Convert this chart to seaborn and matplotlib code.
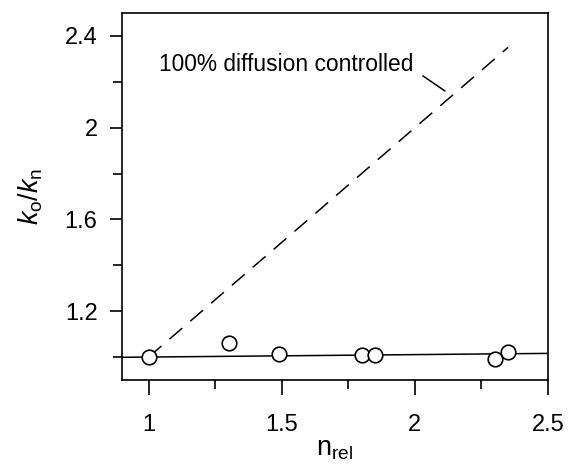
import matplotlib
matplotlib.use("Agg")
import matplotlib.pyplot as plt
import seaborn as sns
import pandas as pd

# data
n_rel = [1.0, 1.30, 1.49, 1.80, 1.85, 2.30, 2.35]
k_ratio = [1.00, 1.062, 1.012, 1.010, 1.010, 0.991, 1.020]
fit_x = [0.9, 2.5]
fit_y = [0.999, 1.016]
diff_x = [1.0, 2.35]
diff_y = [1.0, 2.35]
x_ticks = [1, 1.5, 2, 2.5]
x_tick_labels = ["1", "1.5", "2", "2.5"]
x_minor = [1.25, 1.75, 2.25]
y_ticks = [1.2, 1.6, 2.0, 2.4]
y_tick_labels = ["1.2", "1.6", "2", "2.4"]
y_minor = [1.0, 1.4, 1.8, 2.2]
annot_text = "100% diffusion controlled"

sns.set_theme(style="ticks")
plt.rcParams["font.family"] = ["Liberation Sans", "DejaVu Sans"]
plt.rcParams["mathtext.fontset"] = "custom"
plt.rcParams["mathtext.rm"] = "Liberation Sans"
plt.rcParams["mathtext.it"] = "Liberation Sans:italic"
plt.rcParams["text.color"] = "black"
plt.rcParams["axes.labelcolor"] = "black"
plt.rcParams["xtick.color"] = "black"
plt.rcParams["ytick.color"] = "black"
plt.rcParams["xtick.labelcolor"] = "black"
plt.rcParams["ytick.labelcolor"] = "black"

fig = plt.figure(figsize=(5.68, 4.74), dpi=100)
ax = fig.add_axes([122/568, 1-380/474, (548-122)/568, (380-13)/474])

df_pts = pd.DataFrame({"n": n_rel, "k": k_ratio})
df_fit = pd.DataFrame({"n": fit_x, "k": fit_y})
df_diff = pd.DataFrame({"n": diff_x, "k": diff_y})

sns.lineplot(data=df_fit, x="n", y="k", ax=ax, color="black", lw=1.1, zorder=2)
sns.lineplot(data=df_diff, x="n", y="k", ax=ax, color="black", lw=1.1, zorder=2)
ax.lines[-1].set_dashes((11, 7))
sns.scatterplot(data=df_pts, x="n", y="k", ax=ax, s=110, facecolor="white",
                edgecolor="black", linewidth=1.2, zorder=3, marker="o")

ax.set_xlim(0.9, 2.5)
ax.set_ylim(0.9, 2.5)
ax.set_xticks(x_ticks)
ax.set_xticklabels(x_tick_labels)
ax.set_xticks(x_minor, minor=True)
ax.set_yticks(y_ticks)
ax.set_yticklabels(y_tick_labels)
ax.set_yticks(y_minor, minor=True)

ax.tick_params(axis="x", which="major", length=10.8, width=1.2, pad=14, labelsize=17, color="black", labelcolor="black")
ax.tick_params(axis="x", which="minor", length=6.5, width=1.2, color="black")
ax.tick_params(axis="y", which="major", length=8.6, width=1.2, pad=9, labelsize=17, color="black", labelcolor="black")
ax.tick_params(axis="y", which="minor", length=6.5, width=1.2, color="black")

for sp in ax.spines.values():
    sp.set_visible(True)
    sp.set_color("black")
    sp.set_linewidth(1.2)

ax.set_xlabel(r"n$_{\mathrm{rel}}$", fontsize=19.5, labelpad=0, color="black")
ax.set_ylabel(r"$k_{\mathrm{o}}/k_{\mathrm{n}}$", fontsize=19.5, labelpad=14, color="black")

ax.text(1.04, 2.276, annot_text, fontsize=16.4, ha="left", va="center", color="black")
ax.plot([2.03, 2.113], [2.226, 2.16], color="black", lw=1.1)

fig.savefig("out.png", dpi=100)
